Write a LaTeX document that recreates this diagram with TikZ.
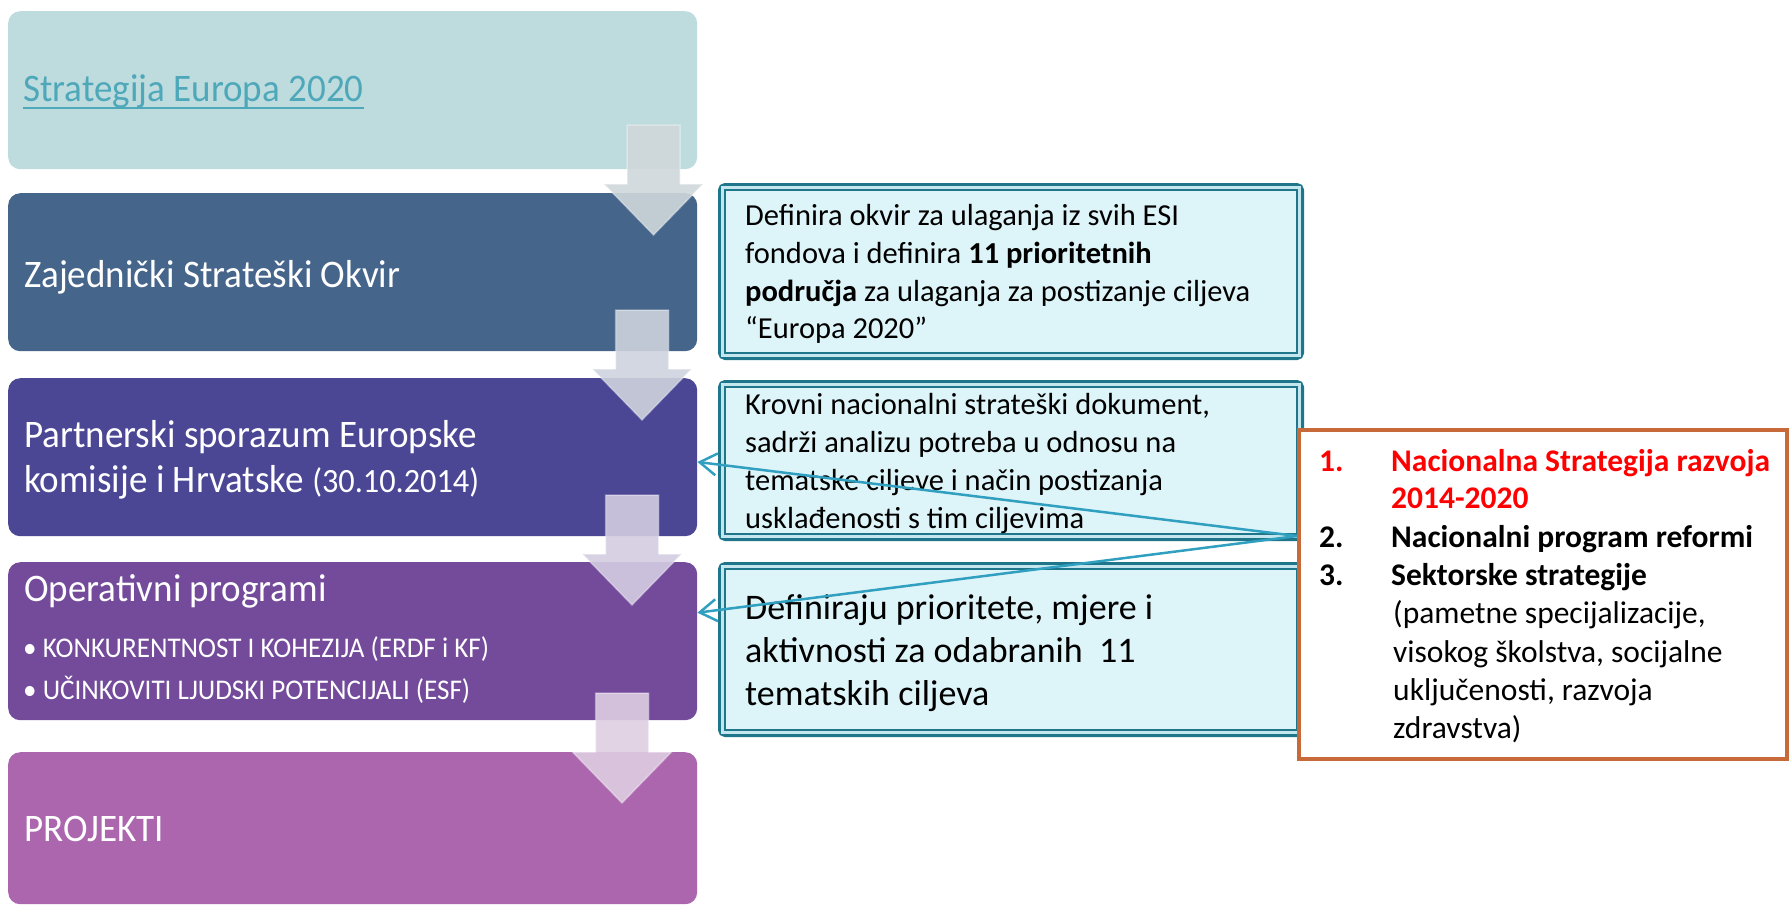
\documentclass[tikz,border=0pt]{standalone}
\usepackage{fontspec}
\setmainfont{Carlito}
\usetikzlibrary{arrows.meta,calc}
\definecolor{bA}{RGB}{190,220,222}
\definecolor{bB}{RGB}{70,101,139}
\definecolor{bC}{RGB}{75,71,148}
\definecolor{bD}{RGB}{116,75,155}
\definecolor{bE}{RGB}{171,102,174}
\definecolor{linkc}{RGB}{78,168,186}
\definecolor{arA}{RGB}{208,216,219}
\definecolor{arB}{RGB}{206,211,222}
\definecolor{arC}{RGB}{212,205,226}
\definecolor{arD}{RGB}{222,206,226}
\definecolor{rline}{RGB}{31,118,138}
\definecolor{rfill}{RGB}{221,244,249}
\definecolor{rgap}{RGB}{196,231,239}
\definecolor{orng}{RGB}{200,105,58}
\definecolor{connc}{RGB}{49,160,192}
\definecolor{redt}{RGB}{255,0,0}
\newcommand{\narrowtxt}[1]{\scalebox{0.95}[1]{#1}}
\tikzset{
  lbox/.style={rounded corners=12pt, inner sep=0pt, minimum width=689pt, minimum height=158pt, anchor=north west},
  ltext/.style={anchor=base west, inner sep=0pt, text=white, font=\fontsize{39}{46}\selectfont},
  lsmall/.style={anchor=base west, inner sep=0pt, text=white, font=\fontsize{28.5}{34}\selectfont},
  rbox/.style={draw=rline, line width=6.5pt, fill=rfill, rounded corners=4pt, inner sep=0pt, minimum width=579.5pt},
  rin/.style={draw=rline, line width=2pt},
  rgapline/.style={draw=rgap, line width=2.5pt},
  rtext/.style={anchor=base west, inner sep=0pt, font=\fontsize{30.5}{37}\selectfont},
  rbig/.style={anchor=base west, inner sep=0pt, font=\fontsize{36}{43}\selectfont},
  otext/.style={anchor=base west, inner sep=0pt, font=\fontsize{31.5}{37}\selectfont},
  obold/.style={otext, font=\fontsize{31.5}{37}\selectfont\bfseries},
  conn/.style={draw=connc, line width=2.5pt, -{Straight Barb[length=17pt,width=22pt,line width=2.5pt]}},
  flowarrow/.style={fill opacity=0.9, draw=white, draw opacity=0.35, line width=1.5pt}
}
\begin{document}
\begin{tikzpicture}[x=1pt,y=-1pt]
\useasboundingbox (0,0) rectangle (1791,906);
\fill[white] (0,0) rectangle (1791,906);
% left process boxes
\node[lbox, fill=bA] (b1) at (8,11) {};
\node[lbox, fill=bB] (b2) at (8,193) {};
\node[lbox, fill=bC] (b3) at (8,378) {};
\node[lbox, fill=bD] (b4) at (8,562) {};
\node[lbox, fill=bE, minimum height=152pt] (b5) at (8,752) {};
% texts of left boxes
\node[ltext, text=linkc] (t1) at (23,101) {\narrowtxt{Strategija Europa 2020}};
\draw[linkc, line width=2pt] ([yshift=-6.5pt]t1.base west) -- ([yshift=-6.5pt]t1.base east);
\node[ltext] (t2) at (24,287) {\narrowtxt{Zajednički Strateški Okvir}};
\node[ltext] (t3a) at (24,447) {\narrowtxt{Partnerski sporazum Europske}};
\node[ltext] (t3b) at (24,492) {\narrowtxt{komisije i Hrvatske {\fontsize{34}{40}\selectfont(30.10.2014)}}};
\node[ltext] (t4) at (24,601) {\narrowtxt{Operativni programi}};
\node[lsmall] (t4a) at (23,657) {\narrowtxt{• KONKURENTNOST I KOHEZIJA (ERDF i KF)}};
\node[lsmall] (t4b) at (23,699) {\narrowtxt{• UČINKOVITI LJUDSKI POTENCIJALI (ESF)}};
\node[ltext] (t5) at (24,841) {\narrowtxt{PROJEKTI}};
% down arrows between boxes
\foreach \cx/\tp/\col in {653.5/125/arA, 642/310/arB, 632/495/arC, 622/693/arD}{
  \path[flowarrow, fill=\col] ({\cx-26.5},\tp) -- ({\cx+26.5},\tp) -- ({\cx+26.5},\tp+59) -- ({\cx+49.5},\tp+59)
     -- (\cx,\tp+110) -- ({\cx-49.5},\tp+59) -- ({\cx-26.5},\tp+59) -- cycle;
}
% right description boxes
\node[rbox, minimum height=170.5pt] (r1) at (1011,271.5) {};
\node[rbox, minimum height=154.5pt] (r2) at (1011,460.5) {};
\node[rbox, minimum height=168.5pt] (r3) at (1011,649.5) {};
\foreach \r in {r1,r2,r3}{
  \draw[rgapline] ([shift={(4.5pt,-4.5pt)}]\r.north west) rectangle ([shift={(-4.5pt,4.5pt)}]\r.south east);
  \draw[rin] ([shift={(6.8pt,-6.8pt)}]\r.north west) rectangle ([shift={(-6.8pt,6.8pt)}]\r.south east);
}
\node[rtext] (r1a) at (745,225) {Definira okvir za ulaganja iz svih ESI};
\node[rtext] (r1b) at (745,263) {fondova i definira \textbf{11 prioritetnih}};
\node[rtext] (r1c) at (745,301) {\textbf{područja} za ulaganja za postizanje ciljeva};
\node[rtext] (r1d) at (745,338) {“Europa 2020”};
\node[rtext] (r2a) at (745,414) {Krovni nacionalni strateški dokument,};
\node[rtext] (r2b) at (745,452) {sadrži analizu potreba u odnosu na};
\node[rtext] (r2c) at (745,490) {tematske ciljeve i način postizanja};
\node[rtext] (r2d) at (745,528) {usklađenosti s tim ciljevima};
\node[rbig] (r3a) at (745,619) {Definiraju prioritete, mjere i};
\node[rbig] (r3b) at (745,662) {aktivnosti za odabranih\ \ 11};
\node[rbig] (r3c) at (745,705) {tematskih ciljeva};
% orange box with national documents
\node[draw=orng, line width=4pt, fill=white, inner sep=0pt, minimum width=488pt, minimum height=329pt] (ob) at (1543,594.5) {};
\node[obold, text=redt] (o1n) at (1319,471) {1.};
\node[obold, text=redt] (o1a) at (1391,471) {Nacionalna Strategija razvoja};
\node[obold, text=redt] (o1b) at (1391,508) {2014-2020};
\node[obold] (o2n) at (1319,547) {2.};
\node[obold] (o2a) at (1391,547) {Nacionalni program reformi};
\node[obold] (o3n) at (1319,585) {3.};
\node[obold] (o3a) at (1391,585) {Sektorske strategije};
\node[otext] (o3b) at (1393,623) {(pametne specijalizacije,};
\node[otext] (o3c) at (1393,662) {visokog školstva, socijalne};
\node[otext] (o3d) at (1393,700) {uključenosti, razvoja};
\node[otext] (o3e) at (1393,738) {zdravstva)};
% connectors
\coordinate (src) at ([yshift=58.5pt]ob.west);
\draw[conn] (src) -- ($(b3.north east)!0.53!(b3.south east)$);
\draw[conn] (src) -- ($(b4.north east)!0.32!(b4.south east)$);
\end{tikzpicture}
\end{document}
